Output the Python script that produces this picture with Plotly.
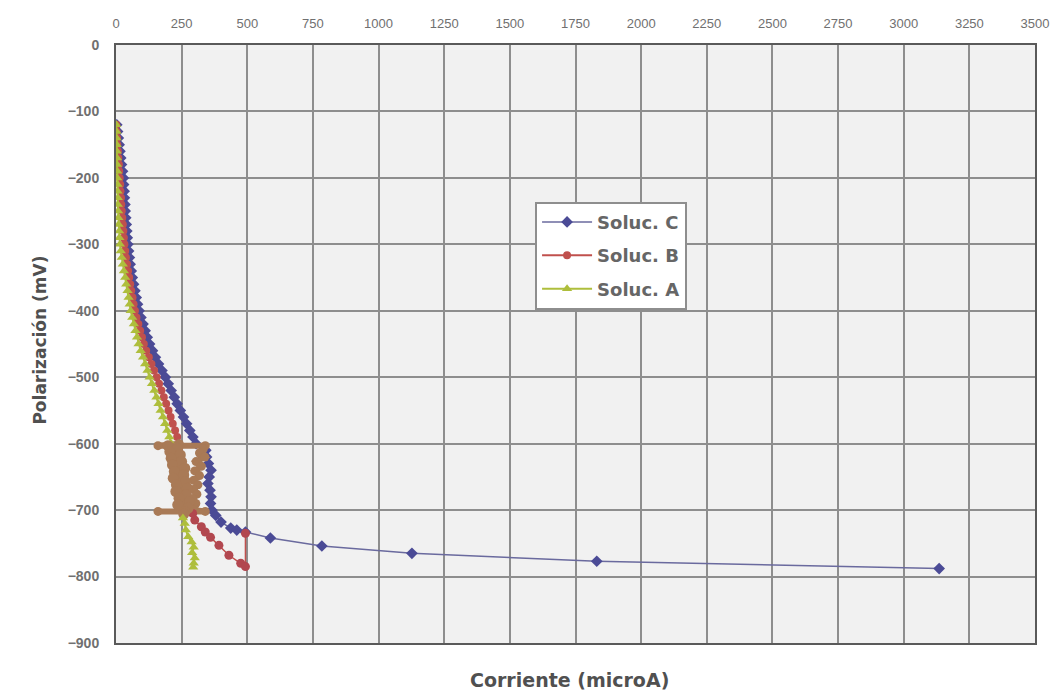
import plotly.graph_objects as go

# ---- Soluc. C ----
c_pol = [-120, -130, -140, -150, -160, -170, -180, -190, -200, -210, -220, -230, -240, -250,
         -260, -270, -280, -290, -300, -310, -320, -330, -340, -350, -360, -370, -380, -390,
         -400, -410, -420, -430, -440, -450, -460, -470, -480, -490, -500, -510, -520, -530,
         -540, -550, -560, -570, -580, -590, -600,
         -610, -620, -630, -640, -650, -660, -670, -680, -690, -700,
         -708, -718, -727, -730, -733, -742, -754, -765, -777, -788]
c_cur = [3, 6, 9, 12, 15, 18, 21, 25, 28, 29, 31, 32, 34, 35,
         37, 39, 41, 43, 45, 48, 51, 54, 58, 62, 67, 72, 77, 82,
         88, 95, 103, 111, 119, 128, 139, 150, 162, 175, 188, 199, 210, 222,
         233, 245, 257, 269, 281, 293, 305,
         342, 345, 352, 362, 355, 350, 358, 362, 360, 365,
         380, 400, 437, 460, 493, 588, 784, 1127, 1831, 3135]

# ---- Soluc. B ----
b_pol = [-120, -130, -140, -150, -160, -170, -180, -190, -200, -210, -220, -230, -240, -250,
         -260, -270, -280, -290, -300, -310, -320, -330, -340, -350, -360, -370, -380, -390,
         -400, -410, -420, -430, -440, -450, -460, -470, -480, -490, -500, -510, -520, -530,
         -540, -550, -560, -570, -580, -590, -600]
b_cur = [1, 2, 4, 5, 7, 9, 11, 12, 14, 16, 17, 19, 20, 22,
         24, 26, 28, 30, 32, 35, 38, 42, 46, 50, 54, 58, 63, 67,
         72, 78, 85, 92, 99, 106, 115, 125, 135, 145, 155, 164, 173, 182,
         191, 200, 208, 216, 225, 233, 241]
b_noise_pol = [-600, -603, -603, -608, -614, -620, -627, -634, -641, -648, -655, -662, -669,
               -676, -683, -690, -696, -700, -702, -702]
b_noise_cur = [241, 160, 340, 332, 318, 338, 305, 325, 300, 318, 296, 312, 295,
               308, 292, 304, 296, 300, 340, 160]
b_tail_pol = [-705, -715, -725, -733, -741, -753, -768, -780, -785, -735]
b_tail_cur = [292, 300, 325, 340, 360, 392, 430, 475, 493, 493]

# ---- Soluc. A ----
a_pol = [-120, -130, -140, -150, -160, -170, -180, -190, -200, -210, -220, -230, -240, -250,
         -260, -270, -280, -290, -300, -310, -320, -330, -340, -350, -360, -370, -380, -390,
         -400, -410, -420, -430, -440, -450, -460, -470, -480, -490, -500, -510, -520, -530,
         -540, -550, -560, -570, -580, -590, -600]
a_cur = [1, 2, 2, 3, 3, 4, 4, 5, 5, 6, 6, 7, 7, 8,
         9, 10, 12, 13, 15, 18, 22, 26, 30, 35, 39, 44, 48, 52,
         56, 62, 68, 74, 80, 86, 94, 103, 111, 120, 128, 137, 146, 154,
         162, 170, 179, 187, 195, 203, 211]
a_noise_pol = [-603, -607, -612, -617, -622, -627, -632, -637, -642, -647, -652, -657, -662,
               -667, -672, -677, -682, -687, -692, -697, -702, -706]
a_noise_cur = [198, 235, 205, 245, 210, 250, 215, 262, 222, 258, 218, 265, 230,
               272, 228, 268, 240, 280, 235, 275, 262, 258]
a_tail_pol = [-712, -720, -730, -740, -748, -756, -764, -772, -780, -786]
a_tail_cur = [255, 262, 266, 275, 288, 296, 290, 300, 296, 294]

x_ticks = list(range(0, 3501, 250))
y_ticks = list(range(-900, 1, 100))

BLUE = "#4B4B96"
RED = "#C0504D"
GREEN = "#AEBE3C"
BROWN = "#A97A56"

fig = go.Figure()

fig.add_trace(go.Scatter(x=c_cur, y=c_pol, mode="lines+markers", name="Soluc. C",
                         legendgroup="C",
                         line=dict(color="#6A6A9E", width=1.5),
                         marker=dict(symbol="diamond", size=9, color=BLUE)))

fig.add_trace(go.Scatter(x=b_cur, y=b_pol, mode="lines+markers", name="Soluc. B",
                         legendgroup="B",
                         line=dict(color=RED, width=2),
                         marker=dict(symbol="circle", size=8, color=RED)))
fig.add_trace(go.Scatter(x=b_noise_cur, y=b_noise_pol, mode="lines+markers", showlegend=False,
                         legendgroup="B",
                         line=dict(color=BROWN, width=6),
                         marker=dict(symbol="circle", size=9, color=BROWN)))
fig.add_trace(go.Scatter(x=b_tail_cur, y=b_tail_pol, mode="lines+markers", showlegend=False,
                         legendgroup="B",
                         line=dict(color=RED, width=1.5),
                         marker=dict(symbol="circle", size=9, color="#B2474F")))

fig.add_trace(go.Scatter(x=a_cur, y=a_pol, mode="lines+markers", name="Soluc. A",
                         legendgroup="A",
                         line=dict(color=GREEN, width=2),
                         marker=dict(symbol="triangle-up", size=9, color=GREEN)))
fig.add_trace(go.Scatter(x=a_noise_cur, y=a_noise_pol, mode="lines+markers", showlegend=False,
                         legendgroup="A",
                         line=dict(color=BROWN, width=8),
                         marker=dict(symbol="circle", size=11, color=BROWN)))
fig.add_trace(go.Scatter(x=a_tail_cur, y=a_tail_pol, mode="lines+markers", showlegend=False,
                         legendgroup="A",
                         line=dict(color=GREEN, width=2),
                         marker=dict(symbol="triangle-up", size=9, color=GREEN)))

fig.update_layout(
    width=1061, height=691,
    margin=dict(l=116, r=16, t=45, b=48),
    paper_bgcolor="white",
    plot_bgcolor="#F1F1F1",
    font=dict(family="Liberation Sans, Arial, sans-serif", color="#6E6E6E"),
    showlegend=True,
    legend=dict(x=0.456, y=0.738, xanchor="left", yanchor="top",
                bgcolor="white", bordercolor="#8E8E8E", borderwidth=2,
                font=dict(family="DejaVu Sans, sans-serif", size=18, color="#666666", weight="bold"),
                traceorder="grouped", tracegroupgap=7, itemwidth=50),
    xaxis=dict(side="top", range=[0, 3500], tickvals=x_ticks,
               showgrid=True, gridcolor="#8E8E8E", gridwidth=1.5,
               showline=True, linecolor="#5A5A5A", linewidth=2, mirror=True,
               zeroline=False, ticks="", ticklabelstandoff=10,
               tickfont=dict(size=13, color="#707070")),
    yaxis=dict(range=[-900, 0], tickvals=y_ticks,
               showgrid=True, gridcolor="#8E8E8E", gridwidth=1.5,
               showline=True, linecolor="#5A5A5A", linewidth=2, mirror=True,
               zeroline=False, ticks="", ticklabelstandoff=12,
               tickfont=dict(size=14, color="#707070", weight="bold")),
    annotations=[
        dict(text="Polarización (mV)", xref="paper", yref="paper",
             x=-0.096, y=0.507, textangle=-90, showarrow=False,
             font=dict(family="DejaVu Sans, sans-serif", size=17, color="#505050", weight="bold")),
        dict(text="Corriente (microA)", xref="paper", yref="paper",
             x=0.494, y=-0.062, showarrow=False, yanchor="middle",
             font=dict(family="DejaVu Sans, sans-serif", size=19, color="#505050", weight="bold")),
    ],
)

fig.write_html("out.html")
